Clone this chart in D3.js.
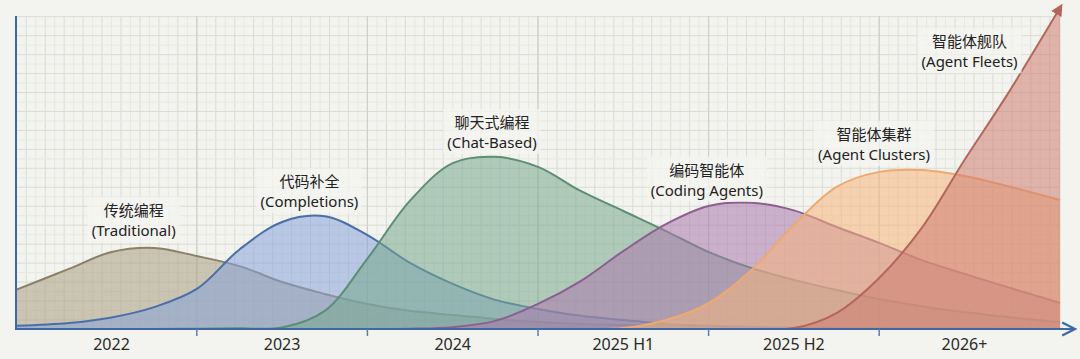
<!DOCTYPE html>
<html>
<head>
<meta charset="utf-8">
<script src="https://cdn.jsdelivr.net/npm/d3@7"></script>
<style>
  html, body { margin: 0; padding: 0; background: #f3f3ef; }
  svg { display: block; }
  text { font-family: "Noto Sans", "Noto Sans CJK SC", sans-serif; }
</style>
</head>
<body>
<svg id="chart" width="1080" height="359"></svg>
<script>
// ---------------- data ----------------
const categories = ["2022", "2023", "2024", "2025 H1", "2025 H2", "2026+"];
const timePoints = [-0.06, 0.25, 0.5, 0.75, 1, 1.25, 1.5, 1.75, 2, 2.25, 2.5, 2.75, 3,
                    3.25, 3.5, 3.75, 4, 4.25, 4.5, 4.75, 5, 5.25, 5.5, 5.75, 6.06];
const traditional   = [12.5, 19.2, 24.6, 25.9, 23.3, 20.1, 15.0, 11.2, 8.0, 5.8, 4.5, 3.2, 2.2,
                       1.6, 1.3, 1.0, 0.6, 0.5, 0.4, 0.3, 0.3, 0.2, 0.2, 0.1, 0.1];
const completions   = [1.0, 1.9, 3.7, 7.0, 12.8, 25.4, 34.2, 36.0, 30.0, 21.1, 14.4, 9.3, 6.4,
                       4.2, 2.9, 1.6, 1.0, 0.6, 0.4, 0.3, 0.2, 0.1, 0.1, 0.1, 0.0];
const chatBased     = [0, 0, 0, 0, 0.1, 0.2, 0.5, 5.8, 22.5, 41.0, 53.0, 55.0, 51.8,
                       44.1, 37.7, 31.3, 24.6, 19.5, 15.7, 12.5, 9.6, 7.3, 5.4, 3.8, 2.2];
const codingAgents  = [0, 0, 0, 0, 0, 0, 0, 0, 0, 0.1, 0.6, 2.6, 8.0,
                       15.3, 24.9, 33.5, 39.3, 40.3, 37.9, 32.6, 27.5, 22.0, 17.6, 13.4, 8.3];
const agentClusters = [0, 0, 0, 0, 0, 0, 0, 0, 0, 0, 0, 0, 0,
                       0, 0.3, 2.9, 8.3, 18.8, 33.2, 45.4, 50.2, 50.8, 48.9, 45.7, 41.2];
const agentFleets   = [0, 0, 0, 0, 0, 0, 0, 0, 0, 0, 0, 0, 0,
                       0, 0, 0, 0, 0, 0.3, 5.1, 16.3, 32.3, 54.0, 74.8, 102.6];

const seriesNames = ["传统编程", "代码补全", "聊天式编程", "编码智能体", "智能体集群", "智能体舰队"];
const seriesSub   = ["(Traditional)", "(Completions)", "(Chat-Based)", "(Coding Agents)", "(Agent Clusters)", "(Agent Fleets)"];
// label anchor (time, value) for each series
const labelTime  = [0.63, 1.66, 2.73, 3.99, 4.97, 5.53];
const labelValue = [36.0, 45.3, 64.2, 49.0, 60.4, 90.0];

// ---------------- styles ----------------
const strokeColors = ["#8b8066", "#4a6fa8", "#5c8e74", "#8d5e90", "#efa96f", "#b5665b"];
const fillColors   = ["#a89d80", "#86a3d8", "#76a78c", "#a978ad", "#f6b47c", "#cd7d71"];
const fillOpacity  = 0.55;

const series = [traditional, completions, chatBased, codingAgents, agentClusters, agentFleets];

// ---------------- layout ----------------
const svg = d3.select("#chart");
const pLeft = 16, pRight = 1060, pTop = 16, pBottom = 329;

const x = d3.scaleLinear().domain([timePoints[0], timePoints[timePoints.length - 1]]).range([pLeft, pRight]);
const y = d3.scaleLinear().domain([0, 100]).range([pBottom, pTop]);

// ---------------- grid ----------------
const grid = svg.append("g");
const cell = x(1 / 9) - x(0);
const fineX = d3.range(-1, 6 * 18 + 3).map(k => k / 18).filter(t => x(t) > pLeft && x(t) <= pRight);
const fineY = d3.range(0, 40).map(k => pTop + 0.7 + k * cell / 2).filter(v => v < pBottom);
grid.selectAll(".fx").data(fineX).join("line")
  .attr("x1", d => x(d)).attr("x2", d => x(d)).attr("y1", pTop).attr("y2", pBottom)
  .attr("stroke", d => Math.abs(d * 9 - Math.round(d * 9)) < 1e-6 ? "#dcdcd6" : "#e8e8e3")
  .attr("stroke-width", 1);
grid.selectAll(".fy").data(fineY).join("line")
  .attr("x1", pLeft).attr("x2", pRight).attr("y1", d => d).attr("y2", d => d)
  .attr("stroke", (d, i) => i % 2 === 0 ? "#dcdcd6" : "#e8e8e3")
  .attr("stroke-width", 1);
grid.selectAll(".mx").data([1, 2, 3, 4, 5]).join("line")
  .attr("x1", d => x(d)).attr("x2", d => x(d)).attr("y1", pTop).attr("y2", pBottom)
  .attr("stroke", "#cfcfc9").attr("stroke-width", 1.2);
grid.append("line").attr("x1", pRight).attr("x2", pRight).attr("y1", pTop).attr("y2", pBottom)
  .attr("stroke", "#dcdcd6");

// ---------------- areas ----------------
const idx = d3.range(timePoints.length);
const curve = d3.curveCatmullRom.alpha(0.5);
const area = vals => d3.area()
  .x(i => x(timePoints[i])).y0(y(0)).y1(i => y(vals[i]))
  .curve(curve)(idx);
const line = vals => d3.line()
  .x(i => x(timePoints[i])).y(i => y(vals[i]))
  .curve(curve)(idx);

const defs = svg.append("defs");
defs.append("clipPath").attr("id", "plotClip")
  .append("rect").attr("x", pLeft).attr("y", 0).attr("width", pRight - pLeft + 10).attr("height", pBottom);
defs.append("marker").attr("id", "redArrow")
  .attr("viewBox", "0 0 10 10").attr("refX", 6).attr("refY", 5)
  .attr("markerWidth", 6).attr("markerHeight", 6).attr("orient", "auto")
  .append("path").attr("d", "M0,0 L10,5 L0,10 z").attr("fill", strokeColors[5]);
defs.append("marker").attr("id", "blueArrow")
  .attr("viewBox", "0 0 10 10").attr("refX", 9).attr("refY", 5)
  .attr("markerWidth", 8).attr("markerHeight", 8).attr("orient", "auto")
  .append("path").attr("d", "M1,1 L9,5 L1,9").attr("fill", "none")
  .attr("stroke", "#3e68a6").attr("stroke-width", 1.4);

const layers = svg.append("g").attr("clip-path", "url(#plotClip)");
series.forEach((vals, k) => {
  layers.append("path").attr("d", area(vals))
    .attr("fill", fillColors[k]).attr("fill-opacity", fillOpacity);
  layers.append("path").attr("d", line(vals))
    .attr("fill", "none").attr("stroke", strokeColors[k]).attr("stroke-width", 2)
    .attr("marker-end", k === 5 ? "url(#redArrow)" : null);
});

// ---------------- labels ----------------
const labels = svg.append("g");
seriesNames.forEach((name, k) => {
  const cx = x(labelTime[k]), cy = y(labelValue[k]);
  const g = labels.append("g");
  const rect = g.append("rect");
  const t1 = g.append("text").attr("x", cx).attr("y", cy).attr("text-anchor", "middle")
    .attr("font-size", 15).attr("fill", "#222").text(name);
  const t2 = g.append("text").attr("x", cx).attr("y", cy + 20).attr("text-anchor", "middle")
    .attr("font-size", 15).attr("fill", "#222").text(seriesSub[k]);
  const b1 = t1.node().getBBox(), b2 = t2.node().getBBox();
  const x0 = Math.min(b1.x, b2.x) - 4, x1 = Math.max(b1.x + b1.width, b2.x + b2.width) + 4;
  rect.attr("x", x0).attr("y", b1.y - 3).attr("width", x1 - x0)
    .attr("height", b2.y + b2.height - b1.y + 5)
    .attr("fill", "#f4f4f0").attr("fill-opacity", 0.75);
});

// ---------------- axes ----------------
const axes = svg.append("g");
axes.append("line").attr("x1", pLeft).attr("x2", pLeft).attr("y1", pTop).attr("y2", pBottom)
  .attr("stroke", "#3e68a6").attr("stroke-width", 2);
axes.append("line").attr("x1", pLeft - 1).attr("x2", 1075).attr("y1", pBottom).attr("y2", pBottom)
  .attr("stroke", "#3e68a6").attr("stroke-width", 2).attr("marker-end", "url(#blueArrow)");
axes.selectAll(".tick").data([1, 2, 3, 4, 5]).join("line")
  .attr("x1", d => x(d)).attr("x2", d => x(d)).attr("y1", pBottom).attr("y2", pBottom + 7)
  .attr("stroke", "#5a7db0").attr("stroke-width", 1.5);
const lo = x.domain()[0], hi = x.domain()[1];
axes.selectAll(".cat").data(categories).join("text")
  .attr("x", (d, i) => (x(Math.max(i, lo)) + x(Math.min(i + 1, hi))) / 2)
  .attr("y", 350).attr("text-anchor", "middle")
  .attr("font-size", 16).attr("fill", "#2a2a2a").text(d => d);
</script>
</body>
</html>
